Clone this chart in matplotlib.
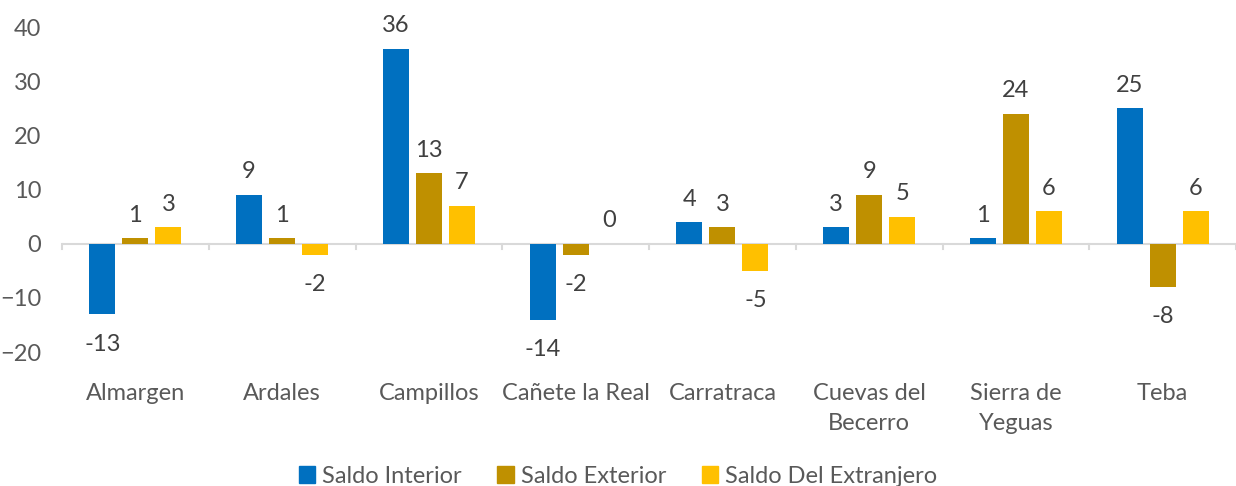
import numpy as np
import matplotlib.pyplot as plt
from matplotlib.patches import Patch

# Data
categories = ["Almargen", "Ardales", "Campillos", "Cañete la Real", "Carratraca",
              "Cuevas del\nBecerro", "Sierra de\nYeguas", "Teba"]
saldo_interior = [-13, 9, 36, -14, 4, 3, 1, 25]
saldo_exterior = [1, 1, 13, -2, 3, 9, 24, -8]
saldo_extranjero = [3, -2, 7, 0, -5, 5, 6, 6]
series_names = ["Saldo Interior", "Saldo Exterior", "Saldo Del Extranjero"]
colors = ["#0070C0", "#BF9000", "#FFC000"]

plt.rcParams['font.family'] = ['Lato', 'DejaVu Sans']
FS = 17

fig = plt.figure(figsize=(12.36, 4.86), dpi=100)
ax = fig.add_axes([62 / 1236, 1 - 352 / 486, (1236 - 62) / 1236, (352 - 27) / 486])

x = np.arange(len(categories))
width = 0.177
step = 0.225
all_series = [saldo_interior, saldo_exterior, saldo_extranjero]

for i, (vals, col) in enumerate(zip(all_series, colors)):
    pos = x + (i - 1) * step
    ax.bar(pos, vals, width, color=col, zorder=3)
    for px, v in zip(pos, vals):
        if v >= 0:
            ax.annotate(str(v), (px, v), xytext=(0, 9), textcoords='offset points',
                        ha='center', va='bottom', fontsize=FS, color='#404040')
        else:
            ax.annotate(str(v), (px, v), xytext=(0, -14), textcoords='offset points',
                        ha='center', va='top', fontsize=FS, color='#404040')

ax.set_xlim(-0.5, len(categories) - 0.5)
ax.set_ylim(-20, 40)
ax.set_yticks([-20, -10, 0, 10, 20, 30, 40])

# zero line with category separators
ax.axhline(0, color='#D9D9D9', lw=1.5, zorder=2)
for b in np.arange(-0.5, len(categories), 1.0):
    ax.plot([b, b], [0, -1.0], color='#D9D9D9', lw=1.5, zorder=2, clip_on=False)

for s in ax.spines.values():
    s.set_visible(False)

ax.set_xticks(x)
ax.set_xticklabels(categories, fontsize=FS, color='#595959', linespacing=1.55)
ax.tick_params(axis='x', length=0, pad=22)
ax.tick_params(axis='y', length=0, labelsize=FS, labelcolor='#595959', pad=15)

handles = [Patch(color=c) for c in colors]
fig.legend(handles, series_names, loc='center', bbox_to_anchor=(0.5, 1 - 476 / 486),
           ncol=3, frameon=False, fontsize=FS, labelcolor='#595959',
           handlelength=0.7, handleheight=0.7, handletextpad=0.3, columnspacing=1.5)

fig.savefig("out.png", dpi=100)
